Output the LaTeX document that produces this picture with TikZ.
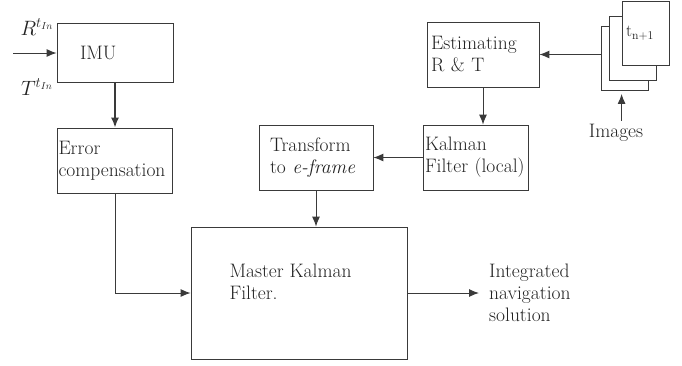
\documentclass[tikz,border=0pt]{standalone}
\usepackage{amsmath}
\usepackage{tikz}
\usepackage{xcolor}
\usetikzlibrary{arrows.meta,positioning}
\definecolor{Ink}{HTML}{3A3A3A}
\definecolor{Type}{HTML}{222222}
\newcommand{\blocktext}{\fontsize{19.5}{22}\selectfont}

\begin{document}
\begin{tikzpicture}[
  x=1pt,y=-1pt,
  box/.style={draw=Ink,line width=0.8pt,minimum height=65pt,align=left,inner ysep=2pt,font=\blocktext,text=Type},
  page/.style={draw=Ink,line width=0.8pt,fill=white,minimum width=47pt,minimum height=64pt},
  lbl/.style={align=left,font=\blocktext,text=Type},
  arrow/.style={-{Latex[length=10pt,width=8pt]},line width=1pt,draw=Ink}
]
\useasboundingbox (0,0) rectangle (682,365);

% blocks
\node[box,text width=70pt,inner xsep=23pt,minimum height=59pt] (imu) at (115,52.5) {IMU};
\node[box,text width=113pt,inner xsep=1pt] (err) at (115,160.5) {Error\\compensation};
\node[box,minimum width=216pt,minimum height=132pt] (master) at (299,293) {};
\node[lbl,anchor=west] (masterTxt) at (226,282) {Master Kalman\\Filter.};
\node[box,text width=92pt,inner xsep=11pt] (trans) at (316,157.5) {Transform\\to \textit{e-frame}};
\node[box,text width=101pt,inner xsep=2pt] (kal) at (475.5,157.5) {Kalman\\Filter (local)};
\node[box,text width=104pt,inner xsep=4pt] (est) at (483,54.5) {Estimating\\R \& T};

% image stack
\node[page] (pgBack) at (625,58.5) {};
\node[page] (pgMid) at (632.5,48) {};
\node[page,text width=39pt,inner xsep=4pt,align=left,font=\fontsize{17}{20}\selectfont,text=Type] (pgFront) at (645.5,33) {t\textsubscript{n+1}};

% labels
\node[lbl] (inR) at (37,27) {$R^{t_{In}}$};
\node[lbl] (inT) at (37,87) {$T^{t_{In}}$};
\coordinate (src) at (13,53);
\node[lbl] (imgs) at (616,133) {Images};
\node[lbl,anchor=west,inner xsep=10pt] (nav) at (479,293) {Integrated\\navigation\\solution};

% connectors
\draw[arrow] (src) -- (src -| imu.west);
\draw[arrow,line width=1.6pt] (imu) -- (err);
\draw[arrow] (err) |- (master);
\draw[arrow] (trans) -- (trans |- master.north);
\draw[arrow] (kal) -- (trans);
\draw[arrow] (est) -- (est |- kal.north);
\draw[arrow] (pgBack.west |- est.east) -- (est.east);
\draw[arrow,shorten >=3pt] (imgs.north -| pgFront.west) -- (pgBack.south -| pgFront.west);
\draw[arrow] (master) -- (nav);
\end{tikzpicture}
\end{document}
